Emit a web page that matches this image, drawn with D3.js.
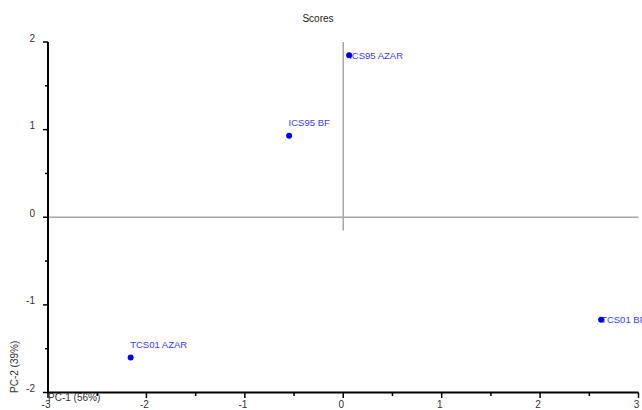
<!DOCTYPE html>
<html>
<head>
<meta charset="utf-8">
<script src="https://cdn.jsdelivr.net/npm/d3@7"></script>
<style>
  html, body { margin: 0; padding: 0; background: #fff; }
  svg { display: block; font-family: Arial, "Liberation Sans", sans-serif; }
</style>
</head>
<body>
<svg id="chart" width="642" height="410"></svg>
<script>
// PCA score plot: PC-1 vs PC-2
const sampleNames = ["ICS95 AZAR", "ICS95 BF", "TCS01 AZAR", "TCS01 BF"];
const pc1Scores   = [0.06, -0.55, -2.16, 2.62];
const pc2Scores   = [1.85, 0.93, -1.60, -1.17];
const labelSide   = ["right", "above", "above", "right"];
const xTicks = [-3, -2, -1, 0, 1, 2, 3];
const yTicks = [-2, -1, 0, 1, 2];

const svg = d3.select("#chart");
const x = d3.scaleLinear().domain([-3, 3]).range([48, 638.5]);
const y = d3.scaleLinear().domain([-2, 2]).range([392.5, 42]);

const axisColor = "#000";
const tickText = "#333";

// zero reference lines
svg.append("line")
  .attr("x1", x(-3)).attr("x2", x(3))
  .attr("y1", y(0)).attr("y2", y(0))
  .attr("stroke", "#a6a6a6").attr("stroke-width", 1.5);
svg.append("line")
  .attr("x1", x(0)).attr("x2", x(0))
  .attr("y1", y(2)).attr("y2", y(-0.15))
  .attr("stroke", "#a6a6a6").attr("stroke-width", 1.5);

// y axis
const gy = svg.append("g");
gy.append("line").attr("x1", 48).attr("x2", 48)
  .attr("y1", y(2)).attr("y2", y(-2) + 1)
  .attr("stroke", axisColor).attr("stroke-width", 2);
d3.range(-2, 2.01, 0.5).forEach(v => {
  const major = Number.isInteger(v);
  gy.append("line").attr("x1", 48).attr("x2", major ? 43 : 45)
    .attr("y1", y(v)).attr("y2", y(v))
    .attr("stroke", axisColor).attr("stroke-width", 1.5);
});
gy.selectAll("text.yt").data(yTicks).join("text")
  .attr("class", "yt")
  .attr("x", 35).attr("y", d => y(d) - 0.5)
  .attr("text-anchor", "end")
  .attr("font-size", 10).attr("fill", tickText)
  .text(d => d);

// x axis
const gx = svg.append("g");
gx.append("line").attr("x1", x(-3) - 1).attr("x2", x(3))
  .attr("y1", 392.5).attr("y2", 392.5)
  .attr("stroke", axisColor).attr("stroke-width", 2);
d3.range(-3, 3.01, 0.5).forEach(v => {
  const major = Number.isInteger(v);
  gx.append("line").attr("x1", x(v)).attr("x2", x(v))
    .attr("y1", 392.5).attr("y2", major ? 398 : 396)
    .attr("stroke", axisColor).attr("stroke-width", 1.5);
});
gx.selectAll("text.xt").data(xTicks).join("text")
  .attr("class", "xt")
  .attr("x", d => x(d) - 2).attr("y", 408)
  .attr("text-anchor", "middle")
  .attr("font-size", 10).attr("fill", tickText)
  .text(d => d);

// title and axis titles
svg.append("text").attr("x", 318).attr("y", 21.5)
  .attr("text-anchor", "middle").attr("font-size", 10).attr("fill", "#222")
  .text("Scores");
svg.append("text").attr("x", 48).attr("y", 401)
  .attr("font-size", 10).attr("fill", tickText)
  .text("PC-1 (56%)");
svg.append("text")
  .attr("transform", "translate(18,393) rotate(-90)")
  .attr("font-size", 10).attr("fill", tickText)
  .text("PC-2 (39%)");

// score points and their labels
const pts = sampleNames.map((n, i) => ({ name: n, px: pc1Scores[i], py: pc2Scores[i], side: labelSide[i] }));
const gp = svg.append("g");
gp.selectAll("text.lbl").data(pts).join("text")
  .attr("class", "lbl")
  .attr("x", d => d.side === "right" ? x(d.px) : x(d.px) - 0.5)
  .attr("y", d => d.side === "right" ? y(d.py) + 3.5 : y(d.py) - 9.5)
  .attr("font-size", 9.5).attr("fill", "#3a3aff")
  .text(d => d.name);
gp.selectAll("circle").data(pts).join("circle")
  .attr("cx", d => x(d.px)).attr("cy", d => y(d.py))
  .attr("r", 3).attr("fill", "#0000ee");
</script>
</body>
</html>
